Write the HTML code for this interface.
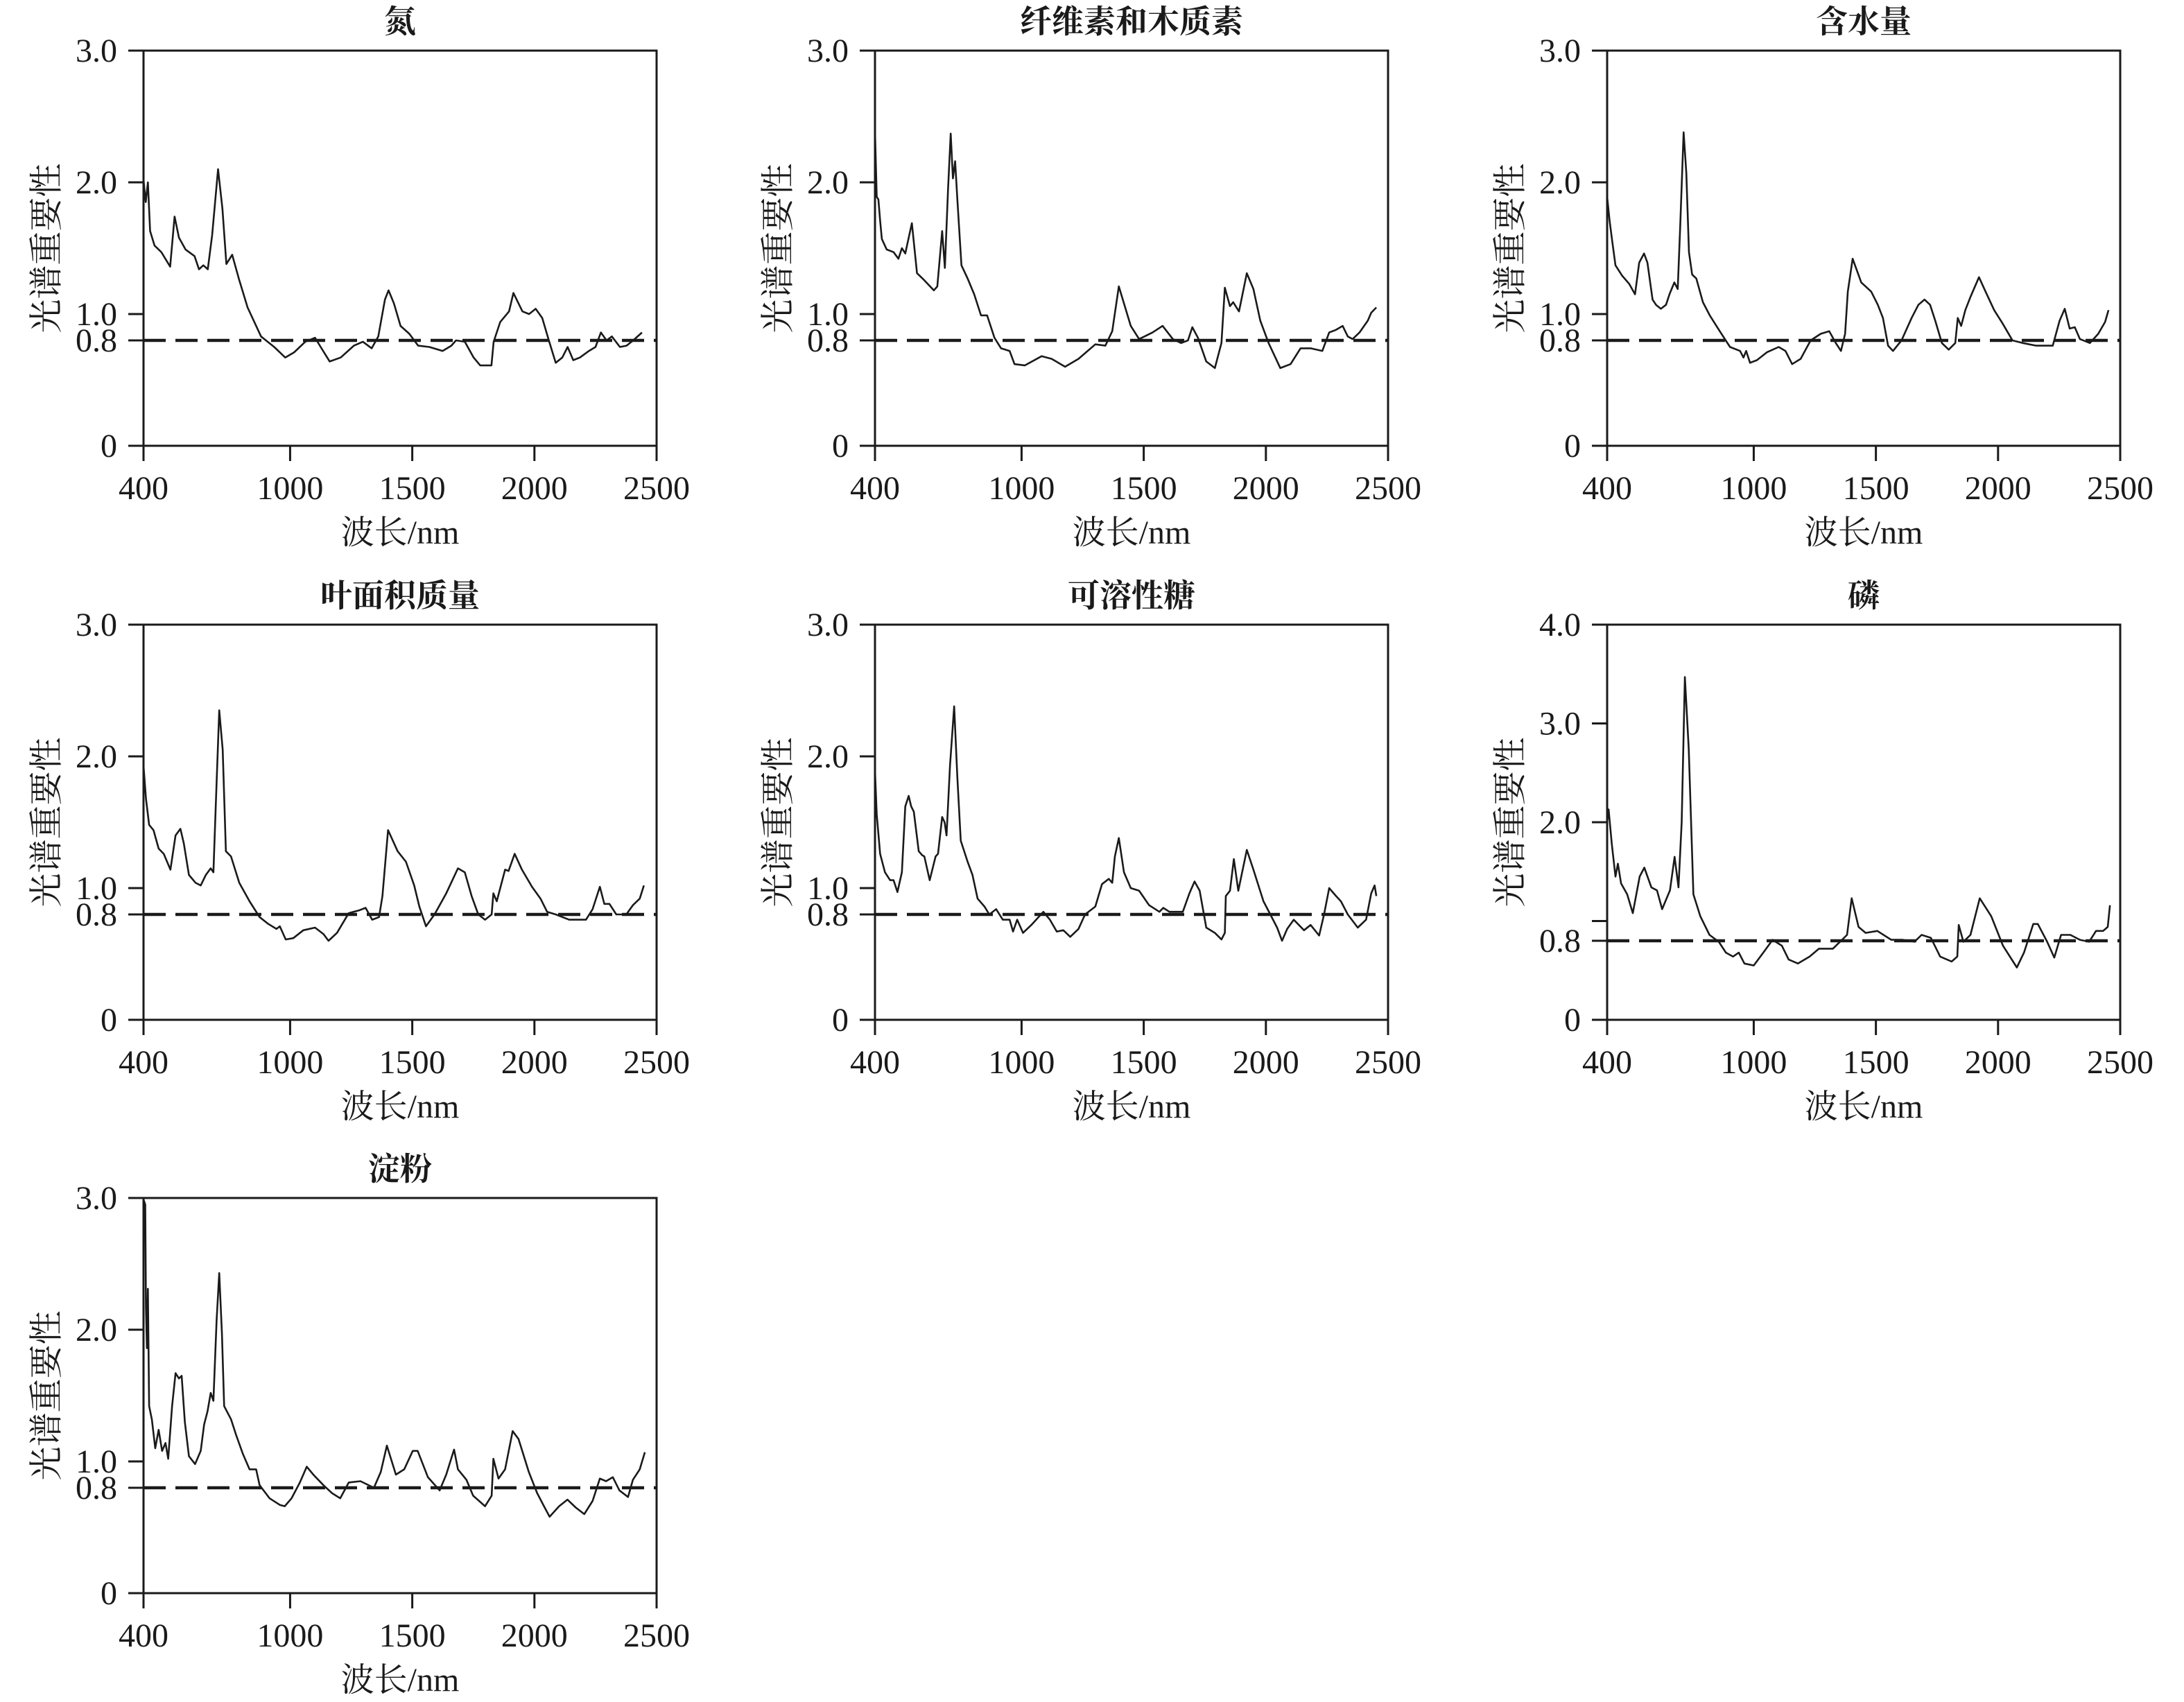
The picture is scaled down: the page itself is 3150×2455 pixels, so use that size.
<!DOCTYPE html>
<html><head><meta charset="utf-8">
<style>
html,body{margin:0;padding:0;background:#fff;}
svg{display:block;}
text{font-family:"Liberation Serif","Noto Serif CJK SC","Noto Sans CJK SC",serif;fill:#1a1a1a;}
</style></head>
<body>
<svg id="chart" width="3150" height="2455" viewBox="0 0 3150 2455" xmlns="http://www.w3.org/2000/svg"></svg>
<script>
const panelTitles = ["氮","纤维素和木质素","含水量","叶面积质量","可溶性糖","磷","淀粉"];
const panelYMax = [3,3,3,3,3,4,3];
const yTicks3 = [0,0.8,1.0,2.0,3.0];
const yTickLabels3 = ["0","0.8","1.0","2.0","3.0"];
const yTicks4 = [0,0.8,1.0,2.0,3.0,4.0];
const yTickLabels4 = ["0","0.8","","2.0","3.0","4.0"];
const xTicks = [400,1000,1500,2000,2500];
const xTickLabels = ["400","1000","1500","2000","2500"];
const threshold = 0.8;

const wl0 = [400,409,418,427,445,473,509,527,545,572,609,627,645,663,681,705,723,739,763,790,826,881,935,980,1017,1062,1102,1125,1162,1207,1261,1298,1334,1361,1388,1403,1425,1452,1488,1524,1570,1624,1660,1679,1715,1751,1778,1824,1833,1860,1896,1914,1951,1978,2005,2032,2059,2087,2114,2136,2159,2186,2223,2250,2272,2295,2317,2350,2377,2404,2440];
const val0 = [2.02,1.85,2.0,1.63,1.52,1.47,1.36,1.74,1.58,1.49,1.44,1.34,1.37,1.34,1.60,2.10,1.80,1.38,1.45,1.27,1.05,0.83,0.75,0.67,0.71,0.79,0.82,0.75,0.64,0.67,0.76,0.79,0.74,0.83,1.11,1.18,1.08,0.91,0.85,0.76,0.75,0.72,0.76,0.80,0.79,0.67,0.61,0.61,0.79,0.94,1.02,1.16,1.02,1.00,1.04,0.97,0.80,0.63,0.67,0.75,0.65,0.67,0.72,0.75,0.86,0.80,0.83,0.75,0.76,0.80,0.86];

const wl1 = [400,407,414,421,428,448,476,496,510,524,551,572,600,641,655,675,686,699,710,719,728,737,754,779,806,834,859,889,916,951,971,1013,1082,1123,1178,1233,1302,1343,1371,1398,1447,1481,1536,1577,1619,1653,1681,1699,1722,1756,1791,1818,1832,1853,1866,1890,1922,1949,1977,2011,2059,2101,2142,2183,2231,2259,2287,2314,2335,2355,2383,2417,2431,2452];
const val1 = [2.39,1.89,1.87,1.71,1.57,1.49,1.47,1.42,1.50,1.46,1.69,1.31,1.26,1.18,1.21,1.63,1.35,1.95,2.37,2.03,2.16,1.87,1.37,1.27,1.15,0.99,0.99,0.82,0.74,0.72,0.62,0.61,0.68,0.66,0.60,0.66,0.77,0.76,0.87,1.21,0.91,0.81,0.86,0.91,0.81,0.78,0.80,0.90,0.82,0.64,0.59,0.78,1.20,1.06,1.09,1.02,1.31,1.19,0.95,0.78,0.59,0.62,0.74,0.74,0.72,0.86,0.88,0.91,0.83,0.81,0.86,0.95,1.01,1.05];

const wl2 = [400,410,421,434,462,490,514,531,551,565,586,600,620,641,655,675,689,699,713,724,735,748,765,792,820,861,903,944,958,969,985,1013,1054,1102,1130,1157,1192,1233,1274,1309,1336,1357,1374,1385,1405,1440,1481,1508,1529,1550,1570,1605,1646,1674,1699,1722,1743,1770,1798,1825,1835,1849,1866,1887,1922,1949,1984,2018,2059,2101,2156,2224,2252,2273,2293,2314,2335,2376,2410,2438,2452];
const val2 = [1.89,1.71,1.55,1.37,1.29,1.23,1.15,1.39,1.46,1.39,1.11,1.07,1.04,1.07,1.15,1.24,1.19,1.67,2.38,2.07,1.47,1.30,1.27,1.09,0.99,0.87,0.75,0.72,0.67,0.72,0.63,0.65,0.71,0.75,0.72,0.62,0.66,0.80,0.85,0.87,0.78,0.72,0.85,1.17,1.42,1.24,1.17,1.07,0.97,0.76,0.72,0.80,0.97,1.07,1.11,1.07,0.95,0.78,0.73,0.78,0.97,0.91,1.03,1.13,1.28,1.17,1.03,0.93,0.80,0.78,0.76,0.76,0.95,1.04,0.89,0.90,0.81,0.78,0.85,0.94,1.03];

const wl3 = [400,410,423,441,462,483,510,531,551,565,586,613,634,655,675,686,696,710,724,737,758,792,834,875,909,944,958,982,1013,1054,1102,1137,1157,1192,1240,1281,1309,1336,1364,1378,1401,1440,1474,1508,1529,1556,1591,1639,1687,1715,1743,1770,1798,1825,1832,1846,1880,1894,1919,1949,1990,2025,2052,2087,2142,2211,2238,2268,2286,2307,2335,2376,2403,2431,2448];
const val3 = [1.93,1.68,1.48,1.44,1.30,1.26,1.14,1.40,1.45,1.34,1.10,1.04,1.02,1.10,1.15,1.12,1.64,2.35,2.05,1.28,1.24,1.04,0.90,0.78,0.73,0.69,0.71,0.61,0.62,0.68,0.70,0.65,0.60,0.66,0.81,0.83,0.85,0.76,0.78,0.94,1.44,1.28,1.20,1.02,0.86,0.71,0.80,0.96,1.15,1.12,0.94,0.80,0.76,0.80,0.96,0.90,1.14,1.13,1.26,1.14,1.01,0.92,0.82,0.80,0.76,0.76,0.84,1.01,0.88,0.88,0.80,0.80,0.87,0.92,1.02];

const wl4 = [400,407,421,441,462,476,492,510,524,538,548,559,579,593,602,624,648,658,675,685,693,707,724,737,751,779,799,820,848,868,896,923,951,965,982,1006,1040,1089,1116,1144,1171,1199,1233,1260,1302,1329,1357,1371,1382,1398,1419,1447,1481,1522,1564,1580,1605,1660,1687,1708,1729,1756,1791,1818,1832,1836,1853,1869,1887,1922,1949,1990,2018,2046,2066,2087,2114,2156,2183,2218,2238,2259,2287,2307,2335,2376,2410,2431,2445,2452];
const val4 = [1.89,1.56,1.26,1.12,1.06,1.06,0.97,1.12,1.62,1.70,1.62,1.58,1.28,1.25,1.24,1.06,1.24,1.26,1.54,1.50,1.40,1.93,2.38,1.84,1.36,1.20,1.10,0.92,0.86,0.80,0.84,0.76,0.76,0.67,0.76,0.66,0.72,0.82,0.76,0.67,0.68,0.63,0.69,0.80,0.86,1.03,1.07,1.04,1.24,1.38,1.12,1.00,0.98,0.87,0.82,0.85,0.82,0.82,0.96,1.05,0.98,0.70,0.66,0.61,0.66,0.94,0.98,1.22,0.98,1.29,1.14,0.90,0.80,0.70,0.60,0.69,0.76,0.68,0.72,0.64,0.80,1.00,0.94,0.90,0.80,0.70,0.76,0.96,1.02,0.94];

const wl5 = [400,406,419,434,444,457,482,505,533,552,581,604,625,657,676,692,705,718,734,753,781,819,857,886,915,939,962,1000,1039,1077,1115,1143,1181,1229,1267,1324,1353,1382,1401,1429,1458,1506,1563,1610,1658,1687,1725,1763,1810,1833,1839,1858,1887,1925,1972,2020,2077,2106,2144,2163,2201,2230,2258,2296,2335,2373,2401,2430,2449,2458];
const val5 = [2.0,2.13,1.78,1.45,1.58,1.38,1.27,1.08,1.45,1.54,1.34,1.31,1.12,1.31,1.65,1.34,2.00,3.47,2.74,1.27,1.05,0.86,0.79,0.68,0.64,0.68,0.57,0.55,0.68,0.81,0.75,0.61,0.57,0.64,0.72,0.72,0.79,0.86,1.23,0.94,0.88,0.90,0.81,0.81,0.79,0.86,0.83,0.64,0.59,0.64,0.96,0.79,0.86,1.23,1.05,0.75,0.53,0.68,0.97,0.97,0.79,0.63,0.86,0.86,0.81,0.79,0.90,0.90,0.94,1.16];

const wl6 = [400,407,410,414,418,423,434,448,462,476,490,501,517,531,545,556,569,586,611,634,648,662,675,686,699,710,721,730,758,779,806,834,861,875,916,958,978,1006,1040,1068,1095,1136,1171,1205,1240,1288,1343,1371,1396,1433,1467,1502,1522,1564,1612,1639,1671,1687,1722,1749,1798,1825,1832,1853,1880,1911,1935,1977,2011,2039,2062,2101,2135,2169,2204,2238,2268,2293,2321,2348,2383,2403,2431,2452];
const val6 = [2.99,2.95,2.17,1.86,2.31,1.42,1.32,1.10,1.24,1.08,1.14,1.02,1.42,1.67,1.63,1.65,1.30,1.04,0.98,1.08,1.28,1.38,1.52,1.46,2.07,2.43,1.97,1.42,1.32,1.20,1.06,0.94,0.94,0.82,0.72,0.67,0.66,0.72,0.84,0.96,0.90,0.82,0.76,0.72,0.84,0.85,0.80,0.92,1.12,0.90,0.94,1.08,1.08,0.88,0.78,0.90,1.09,0.94,0.86,0.74,0.66,0.74,1.02,0.87,0.94,1.23,1.17,0.92,0.76,0.66,0.58,0.66,0.71,0.65,0.60,0.70,0.87,0.85,0.88,0.78,0.73,0.86,0.94,1.07];

const allWl = [wl0,wl1,wl2,wl3,wl4,wl5,wl6];
const allVal = [val0,val1,val2,val3,val4,val5,val6];

const NS = "http://www.w3.org/2000/svg";
const svg = document.getElementById("chart");
const colX = [207,1262,2318], rowY = [73,901,1728];
const PW = 740, PH = 570, XMIN = 400, XMAX = 2500;

function mk(tag, attrs, parent){
  const e = document.createElementNS(NS, tag);
  for (const k in attrs) e.setAttribute(k, attrs[k]);
  parent.appendChild(e);
  return e;
}

panelTitles.forEach((title, i) => {
  const L = colX[i % 3], T = rowY[Math.floor(i / 3)];
  const B = T + PH, R = L + PW;
  const ymax = panelYMax[i];
  const xs = v => L + (v - XMIN) / (XMAX - XMIN) * PW;
  const ys = v => B - v / ymax * PH;
  const g = mk("g", {}, svg);
  
  

  const t = mk("text", {x: L + PW / 2, y: 47, "font-size": 46, "font-weight": "bold", "text-anchor": "middle"}, g);
  t.setAttribute("y", T - 26);
  t.textContent = title;
  
  

  const frame = mk("rect", {x: L, y: T, width: PW, height: PH, fill: "none", stroke: "#1a1a1a", "stroke-width": 3}, g);
  
  

  const yt = ymax === 4 ? yTicks4 : yTicks3;
  const yl = ymax === 4 ? yTickLabels4 : yTickLabels3;
  yt.forEach((v, k) => {
    const tk = mk("line", {x1: L - 22, x2: L, y1: ys(v), y2: ys(v), stroke: "#1a1a1a", "stroke-width": 3}, g);
    
    
    if (yl[k]) {
      const tl = mk("text", {x: L - 38, y: ys(v) + 16, "font-size": 48, "text-anchor": "end"}, g);
      tl.textContent = yl[k];
      
      
    }
  });
  xTicks.forEach((v, k) => {
    const tk = mk("line", {x1: xs(v), x2: xs(v), y1: B, y2: B + 22, stroke: "#1a1a1a", "stroke-width": 3}, g);
    
    
    const tl = mk("text", {x: xs(v), y: B + 77, "font-size": 48, "text-anchor": "middle"}, g);
    tl.textContent = xTickLabels[k];
    
    
  });

  const xt = mk("text", {x: L + PW / 2, y: B + 141, "font-size": 48, "text-anchor": "middle"}, g);
  xt.textContent = "波长/nm";
  
  

  const cy = T + PH / 2, cx = L - 140;
  const yTitle = mk("text", {x: cx, y: cy, "font-size": 49, "text-anchor": "middle", "dominant-baseline": "central", transform: "rotate(-90 " + cx + " " + cy + ")"}, g);
  yTitle.textContent = "光谱重要性";
  
  

  const th = mk("line", {x1: L, x2: R, y1: ys(threshold), y2: ys(threshold), stroke: "#1a1a1a", "stroke-width": 4.5, "stroke-dasharray": "32 14"}, g);
  
  

  const wl = allWl[i], vl = allVal[i];
  const pts = wl.map((w, k) => xs(w).toFixed(1) + "," + ys(vl[k]).toFixed(1)).join(" ");
  const line = mk("polyline", {points: pts, fill: "none", stroke: "#1a1a1a", "stroke-width": 2.6, "stroke-linejoin": "round"}, g);
  
  
});
</script>
</body></html>
